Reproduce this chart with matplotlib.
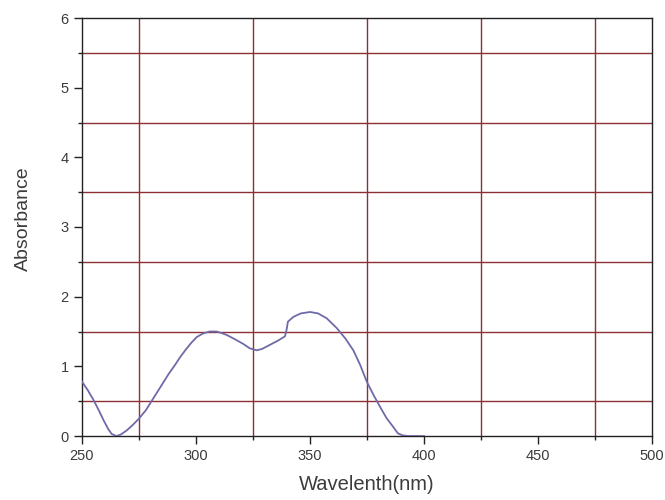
import matplotlib
matplotlib.use("Agg")
import matplotlib.pyplot as plt
from matplotlib.ticker import MultipleLocator

plt.rcParams['font.family'] = ['Liberation Sans', 'DejaVu Sans']

# UV-Vis absorption spectrum
wavelength = [250, 252.5, 255, 257.5, 259.4, 261.5, 263, 265, 267, 269.6, 272, 275,
              278, 280.5, 283, 285.5, 288, 290.8, 293, 295.5, 298, 300.3, 303, 306,
              309, 311, 313.5, 317, 320.8, 323.5, 326.6, 329, 332.5, 336, 339, 339.7,
              340.3, 342.7, 346, 350, 353.5, 357.3, 361.7, 365.5, 369, 372, 374.9, 378,
              380.7, 383.5, 386.5, 388.5, 390.5, 393, 400]
absorbance = [0.78, 0.66, 0.52, 0.36, 0.23, 0.10, 0.03, 0.00, 0.02, 0.08, 0.15, 0.25,
              0.37, 0.50, 0.63, 0.76, 0.89, 1.02, 1.13, 1.24, 1.34, 1.42, 1.47, 1.50,
              1.50, 1.48, 1.45, 1.39, 1.32, 1.26, 1.23, 1.25, 1.31, 1.37, 1.43, 1.52,
              1.64, 1.71, 1.76, 1.78, 1.76, 1.69, 1.55, 1.40, 1.23, 1.02, 0.78, 0.58,
              0.42, 0.26, 0.13, 0.04, 0.01, 0.0, 0.0]

x_ticks = [250, 300, 350, 400, 450, 500]
y_ticks = [0, 1, 2, 3, 4, 5, 6]

fig = plt.figure(figsize=(6.65, 5.0), dpi=100)
ax = fig.add_axes([0.1233, 0.128, 0.8572, 0.836])

ax.set_xlim(250, 500)
ax.set_ylim(0, 6)
ax.set_xticks(x_ticks)
ax.set_yticks(y_ticks)
ax.xaxis.set_minor_locator(MultipleLocator(25))
ax.yaxis.set_minor_locator(MultipleLocator(0.5))

grid_color = '#8e2f35'
ax.grid(False, which='major')
ax.grid(True, which='minor', color=grid_color, linewidth=1.0)
ax.set_axisbelow(True)

ax.plot(wavelength, absorbance, color='#6f6aa8', linewidth=1.3, zorder=3,
        solid_joinstyle='round')

for s in ax.spines.values():
    s.set_color('#222222')
    s.set_linewidth(1.0)

text_color = '#3c3c3c'
ax.tick_params(which='major', direction='out', length=5.5, width=1, color='#222222',
               labelsize=10.5, labelcolor=text_color, pad=4)
ax.tick_params(which='minor', direction='out', length=3, width=1, color='#222222')

ax.set_xlabel('Wavelenth(nm)', fontsize=14.5, color=text_color, va='center')
ax.set_ylabel('Absorbance', fontsize=14, color=text_color, va='center')
ax.xaxis.set_label_coords(0.5, -0.117)
ax.yaxis.set_label_coords(-0.102, 0.52)

fig.savefig('out.png', dpi=100)
